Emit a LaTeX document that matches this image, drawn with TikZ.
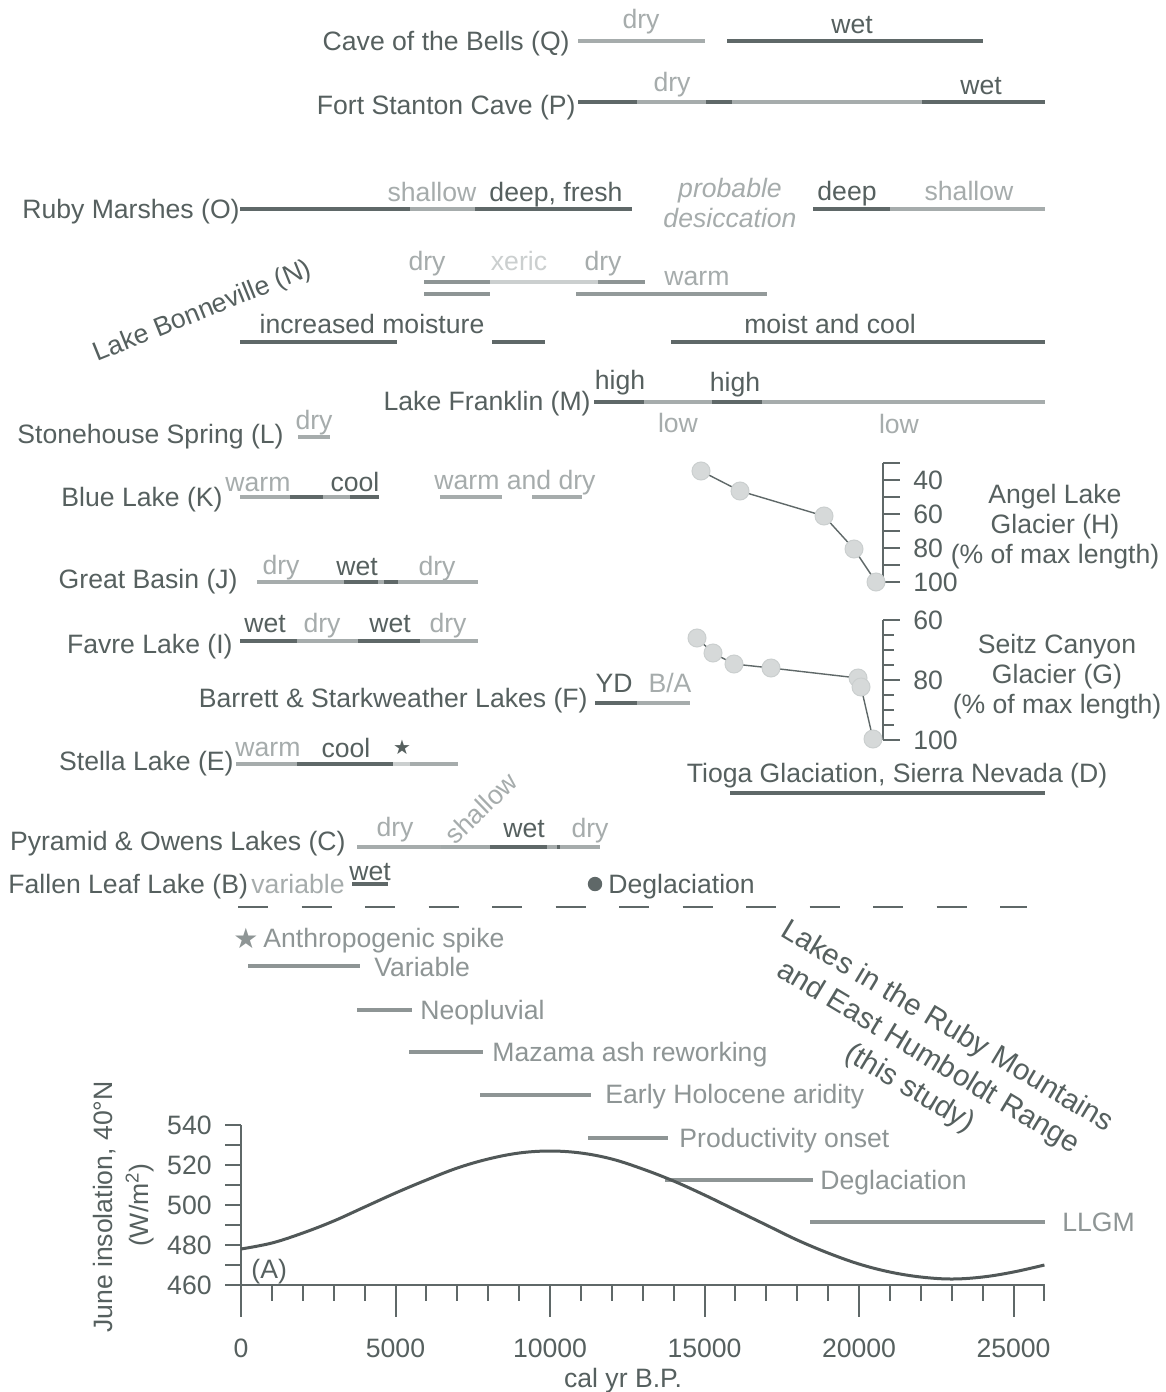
\documentclass[tikz,border=0pt]{standalone}
\usepackage{fontspec}
\setmainfont{Liberation Sans}
\newfontfamily\symfont{DejaVu Sans}
\definecolor{tx}{HTML}{56605F}
\definecolor{ln}{HTML}{5F6868}
\definecolor{lt}{HTML}{A6ACAC}
\definecolor{md}{HTML}{8E9595}
\definecolor{vl}{HTML}{CBCFCF}
\definecolor{pt}{HTML}{D6D9D9}
\newcommand{\barseg}[4]{\draw[bar,#4] (#1,#3) -- (#2,#3);}
\tikzset{
  T/.style={font=\fontsize{13.3}{16}\selectfont, inner sep=0pt, text=tx},
  Tl/.style={T, text=lt},
  Tm/.style={T, text=md},
  bar/.style={line width=2.4pt, line cap=butt},
  ax/.style={draw=ln, line width=1pt},
  gpt/.style={circle, fill=pt, draw=vl, line width=0.5pt, minimum size=9pt, inner sep=0pt},
  gline/.style={draw=ln, line width=0.7pt},
}
\begin{document}
\begin{tikzpicture}[x=0.5pt,y=-0.5pt]
\path[use as bounding box, fill=white] (0,0) rectangle (1166,1392);

% Q
\node[T, anchor=base east] (qlab) at (570,50) {Cave of the Bells (Q)};
\barseg{578}{705}{41}{lt}\barseg{727}{983}{41}{ln}
\node[Tl, anchor=base] (qdry) at (641,28) {dry};
\node[T, anchor=base] (qwet) at (852,33) {wet};
% P
\node[T, anchor=base east] (plab) at (576,114) {Fort Stanton Cave (P)};
\barseg{578}{637}{102}{ln}\barseg{637}{706}{102}{lt}\barseg{706}{732}{102}{ln}\barseg{732}{922}{102}{lt}\barseg{922}{1045}{102}{ln}
\node[Tl, anchor=base] (pdry) at (672,91) {dry};
\node[T, anchor=base] (pwet) at (981,94) {wet};
% O
\node[T, anchor=base east] (olab) at (240,218) {Ruby Marshes (O)};
\barseg{240}{410}{209}{ln}\barseg{410}{475}{209}{lt}\barseg{475}{632}{209}{ln}
\barseg{813}{890}{209}{ln}\barseg{890}{1045}{209}{lt}
\node[Tl, anchor=base] (osh1) at (432,201) {shallow};
\node[T, anchor=base] (odf) at (556,201) {deep, fresh};
\node[Tl, anchor=base] (opr) at (730,197) {\itshape probable};
\node[Tl, anchor=base] (ode) at (730,227) {\itshape desiccation};
\node[T, anchor=base] (odp) at (847,200) {deep};
\node[Tl, anchor=base] (osh2) at (969,200) {shallow};
% N
\node[T, rotate=22] (nlab) at (203,312) {Lake Bonneville (N)};
\barseg{424}{490}{282}{md}\barseg{490}{598}{282}{vl}\barseg{598}{645}{282}{md}
\barseg{424}{490}{294}{md}\barseg{576}{767}{294}{md!80!lt}
\barseg{240}{397}{342}{ln}\barseg{492}{545}{342}{ln}\barseg{671}{1045}{342}{ln}
\node[Tl, anchor=base] (ndry1) at (427,270) {dry};
\node[T, text=vl, anchor=base] (nxer) at (519,270) {xeric};
\node[Tl, anchor=base] (ndry2) at (603,270) {dry};
\node[Tl, anchor=base] (nwarm) at (697,285) {warm};
\node[T, anchor=base] (nmoi) at (372,333) {increased moisture};
\node[T, anchor=base] (nmc) at (830,333) {moist and cool};
% M
\node[T, anchor=base east] (mlab) at (591,410) {Lake Franklin (M)};
\barseg{594}{644}{402}{ln}\barseg{644}{712}{402}{lt}\barseg{712}{762}{402}{ln}\barseg{762}{1045}{402}{lt}
\node[T, anchor=base] (mh1) at (620,389) {high};
\node[T, anchor=base] (mh2) at (735,391) {high};
\node[Tl, anchor=base] (ml1) at (678,432) {low};
\node[Tl, anchor=base] (ml2) at (899,433) {low};
% L
\node[T, anchor=base west] (llab) at (17,443) {Stonehouse Spring (L)};
\barseg{298}{330}{437}{lt}
\node[Tl, anchor=base] (ldry) at (314,429) {dry};
% K
\node[T, anchor=base east] (klab) at (223,506) {Blue Lake (K)};
\barseg{240}{290}{497}{lt}\barseg{290}{323}{497}{ln}\barseg{323}{350}{497}{lt}\barseg{350}{379}{497}{ln}
\barseg{440}{502}{497}{lt}\barseg{532}{582}{497}{lt}
\node[Tl, anchor=base] (kwarm) at (258,491) {warm};
\node[T, anchor=base] (kcool) at (355,491) {cool};
\node[Tl, anchor=base] (kwd) at (515,489) {warm and dry};
% J
\node[T, anchor=base east] (jlab) at (238,588) {Great Basin (J)};
\barseg{257}{344}{582}{lt}\barseg{344}{378}{582}{ln}\barseg{378}{384}{582}{lt}\barseg{384}{398}{582}{ln}\barseg{398}{478}{582}{lt}
\node[Tl, anchor=base] (jd1) at (281,574) {dry};
\node[T, anchor=base] (jw) at (357,575) {wet};
\node[Tl, anchor=base] (jd2) at (437,575) {dry};
% I
\node[T, anchor=base east] (ilab) at (233,653) {Favre Lake (I)};
\barseg{240}{297}{641}{ln}\barseg{297}{358}{641}{lt}\barseg{358}{420}{641}{ln}\barseg{420}{478}{641}{lt}
\node[T, anchor=base] (iw1) at (265,632) {wet};
\node[Tl, anchor=base] (id1) at (322,632) {dry};
\node[T, anchor=base] (iw2) at (390,632) {wet};
\node[Tl, anchor=base] (id2) at (448,632) {dry};
% F
\node[T, anchor=base east] (flab) at (588,707) {Barrett \& Starkweather Lakes (F)};
\barseg{595}{637}{703}{ln}\barseg{637}{690}{703}{lt}
\node[T, anchor=base] (fyd) at (614,692) {YD};
\node[Tl, anchor=base] (fba) at (670,692) {B/A};
% E
\node[T, anchor=base east] (elab) at (234,770) {Stella Lake (E)};
\barseg{236}{297}{764}{lt}\barseg{297}{393}{764}{ln}\barseg{393}{410}{764}{vl}\barseg{410}{458}{764}{lt}
\node[Tl, anchor=base] (ewarm) at (268,756) {warm};
\node[T, anchor=base] (ecool) at (346,757) {cool};
\node[T, font=\symfont\fontsize{10}{10}\selectfont] (estar) at (402,747) {★};
% C
\node[T, anchor=base east] (clab) at (346,850) {Pyramid \& Owens Lakes (C)};
\barseg{357}{441}{847}{lt}\barseg{441}{490}{847}{lt!85!md}\barseg{490}{547}{847}{ln}\barseg{547}{557}{847}{lt}\barseg{557}{560}{847}{ln}\barseg{560}{600}{847}{lt}
\node[Tl, anchor=base] (cd1) at (395,836) {dry};
\node[Tl, rotate=44] (csh) at (481,808) {shallow};
\node[T, anchor=base] (cw) at (524,837) {wet};
\node[Tl, anchor=base] (cd2) at (590,837) {dry};
% B
\node[T, anchor=base west] (blab) at (8,893) {Fallen Leaf Lake (B)};
\node[Tl, anchor=base] (bvar) at (298,893) {variable};
\barseg{352}{388}{884}{ln}
\node[T, anchor=base] (bwet) at (370,880) {wet};
\fill[ln] (595,884) circle (3.6pt);
\node[T, anchor=base west] (bdeg) at (608,893) {Deglaciation};
% D
\node[T, anchor=base] (dlab) at (897,782) {Tioga Glaciation, Sierra Nevada (D)};
\barseg{730}{1045}{793}{ln}

% Glacier H
\draw[ax] (883,463) -- (883,582);
\foreach \k in {0,...,7}{\draw[ax] (883,{463+17*\k}) -- (900,{463+17*\k});}
\node[T, anchor=base west] (h40) at (913,489) {40};
\node[T, anchor=base west] (h60) at (913,523) {60};
\node[T, anchor=base west] (h80) at (913,557) {80};
\node[T, anchor=base west] (h100) at (913,591) {100};
\draw[gline] (701,471) -- (740,491) -- (824,516) -- (854,549) -- (876,582);
\foreach \p/\q [count=\i] in {701/471,740/491,824/516,854/549,876/582}{\node[gpt] (hp\i) at (\p,\q) {};}
\node[T, anchor=base] (htxt) at (1055,503) {Angel Lake};
\node[T, anchor=base] (htxt2) at (1055,533) {Glacier (H)};
\node[T, anchor=base] (htxt3) at (1055,563) {(\% of max length)};

% Glacier G
\draw[ax] (883,620) -- (883,740);
\foreach \k in {0,...,8}{\pgfmathtruncatemacro\mm{mod(\k,4)}
  \ifnum\mm=0 \draw[ax] (883,{620+15*\k}) -- (900,{620+15*\k});
  \else \draw[ax] (883,{620+15*\k}) -- (894,{620+15*\k}); \fi}
\node[T, anchor=base west] (g60) at (913,629) {60};
\node[T, anchor=base west] (g80) at (913,689) {80};
\node[T, anchor=base west] (g100) at (913,749) {100};
\draw[gline] (697,638) -- (713,653) -- (734,664) -- (771,668) -- (858,678) -- (861,687) -- (873,739);
\foreach \p/\q [count=\i] in {697/638,713/653,734/664,771/668,858/678,861/687,873/739}{\node[gpt] (gp\i) at (\p,\q) {};}
\node[T, anchor=base] (gtxt) at (1057,653) {Seitz Canyon};
\node[T, anchor=base] (gtxt2) at (1057,683) {Glacier (G)};
\node[T, anchor=base] (gtxt3) at (1057,713) {(\% of max length)};

% dashed separator
\draw[ln, line width=1pt, dash pattern=on 15pt off 16.75pt] (238,907) -- (1027,907);

% legend
\node[Tm, font=\symfont\fontsize{14}{14}\selectfont] (lstar) at (246,938) {★};
\node[Tm, anchor=base west] (lanth) at (263,947) {Anthropogenic spike};
\barseg{248}{360}{966}{md}\node[Tm, anchor=base west] (lvar) at (374,976) {Variable};
\barseg{357}{412}{1010}{md}\node[Tm, anchor=base west] (lneo) at (420,1019) {Neopluvial};
\barseg{409}{483}{1052}{md}\node[Tm, anchor=base west] (lmaz) at (492,1061) {Mazama ash reworking};
\barseg{480}{591}{1095}{md}\node[Tm, anchor=base west] (lear) at (605,1103) {Early Holocene aridity};
\barseg{588}{668}{1138}{md}\node[Tm, anchor=base west] (lpro) at (679,1147) {Productivity onset};
\barseg{665}{813}{1180}{md}\node[Tm, anchor=base west] (ldeg) at (820,1189) {Deglaciation};
\barseg{810}{1045}{1222}{md}\node[Tm, anchor=base west] (lllgm) at (1062,1231) {LLGM};

\node[T, rotate=-31, align=center, font=\fontsize{14.8}{18}\selectfont] (study) at (928,1058)
  {Lakes in the Ruby Mountains\\and East Humboldt Range\\(this study)};

% insolation axis
\draw[ax] (241,1125) -- (241,1317);
\foreach \k in {0,...,8}{\draw[ax] (225,{1125+20*\k}) -- (241,{1125+20*\k});}
\draw[ax] (225,1285) -- (1045,1285);
\foreach \k in {1,...,26}{\pgfmathsetmacro\xx{241+30.9*\k}\pgfmathtruncatemacro\mm{mod(\k,5)}
  \ifnum\mm=0 \draw[ax] (\xx,1285) -- (\xx,1317); \else \draw[ax] (\xx,1285) -- (\xx,1301); \fi}
\foreach \v [count=\i from 0] in {540,520,500,480,460}{\node[T, anchor=base east] (yl\v) at (212,{1134+40*\i}) {\v};}
\foreach \v [count=\i from 0] in {0,5000,10000,15000,20000,25000}{\node[T, anchor=base] (xl\v) at ({241+154.5*\i},1357) {\v};}
\node[T, anchor=base] (xtitle) at (623,1387) {cal yr B.P.};
\node[T, rotate=90] (ytitle) at (105,1207) {June insolation, 40°N};
\node[T, rotate=90] (ytitle2) at (140,1205) {(W/m$^{\mathrm{2}}$)};
\node[T, anchor=base west] (alab) at (251,1278) {(A)};
\draw[draw=ln!85!black, line width=1.5pt] plot[smooth, tension=0.6] coordinates {
 (241,1249) (271.9,1243) (302.8,1233) (333.7,1221) (364.6,1207) (395.5,1193)
 (426.4,1180) (457.3,1168) (488.2,1159) (519.1,1153) (550,1151) (580.9,1153)
 (611.8,1159) (642.7,1169) (673.6,1181) (704.5,1195) (735.4,1210) (766.3,1225)
 (797.2,1240) (828.1,1253) (859,1264) (889.9,1272) (920.8,1277) (951.7,1279)
 (982.6,1277) (1013.5,1272) (1044.4,1265)};
\end{tikzpicture}
\end{document}
